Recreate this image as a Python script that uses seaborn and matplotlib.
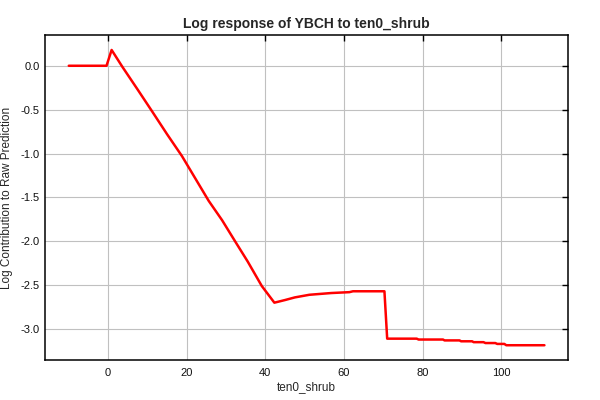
import pandas as pd
import matplotlib
matplotlib.use("Agg")
import matplotlib.pyplot as plt
import seaborn as sns

# response curve values
shrub = [-10, -0.4, 0.9, 3.6, 7.5, 11.2, 15, 18.8, 22, 25.6,
         29, 32.3, 35.5, 39.1, 42.3, 45, 47.5, 51.2, 54, 56.8,
         61.4, 62.3, 70.3, 71.0, 78.5, 79, 85.2, 85.6, 89.4, 89.8,
         92.6, 93, 95.5, 96, 98.5, 99, 100.8, 101.3, 111]
log_resp = [0.0, 0.0, 0.18, -0.01, -0.27, -0.52, -0.78, -1.03, -1.27, -1.54,
            -1.76, -2.0, -2.23, -2.51, -2.70, -2.67, -2.64, -2.61, -2.60, -2.59,
            -2.58, -2.57, -2.57, -3.11, -3.11, -3.12, -3.12, -3.13, -3.13, -3.14,
            -3.14, -3.15, -3.15, -3.16, -3.16, -3.17, -3.17, -3.185, -3.185]

df = pd.DataFrame({"ten0_shrub": shrub, "resp": log_resp})

sns.set_style("white")
plt.rcParams["font.family"] = ["Liberation Sans", "DejaVu Sans"]
plt.rcParams["axes.unicode_minus"] = False

fig = plt.figure(figsize=(6, 4), dpi=100)
ax = fig.add_axes([0.075, 0.1, 0.872, 0.812])

sns.lineplot(data=df, x="ten0_shrub", y="resp", color="red", linewidth=1.8, sort=False, ax=ax)

ax.grid(True, color="#c0c0c0", linewidth=0.8)
ax.set_axisbelow(True)
for s in ax.spines.values():
    s.set_color("black")
    s.set_linewidth(1.1)
ax.tick_params(direction="in", top=True, right=True, length=4, width=1, color="black",
               labelsize=8, labelcolor="#111111")
ax.tick_params(axis="x", pad=6)
ax.tick_params(axis="y", pad=4)
ax.set_xticks([0, 20, 40, 60, 80, 100])
ax.set_yticks([0.0, -0.5, -1.0, -1.5, -2.0, -2.5, -3.0])
ax.set_yticklabels(["0.0", "-0.5", "-1.0", "-1.5", "-2.0", "-2.5", "-3.0"])

ax.set_title("Log response of YBCH to ten0_shrub", fontsize=10, fontweight="bold", pad=5)
ax.set_xlabel("ten0_shrub", fontsize=8.5, labelpad=2)
ax.set_ylabel("Log Contribution to Raw Prediction", fontsize=8.5, labelpad=5)

fig.savefig("out.png", dpi=100)
